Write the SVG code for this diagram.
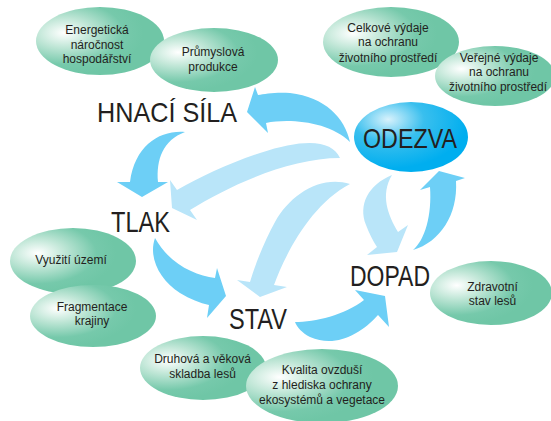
<svg xmlns="http://www.w3.org/2000/svg" width="551" height="421" viewBox="0 0 551 421">
<defs>
<radialGradient id="gGreen" cx="0.22" cy="0.38" r="0.62" fx="0.22" fy="0.38">
<stop offset="0" stop-color="#ffffff"/>
<stop offset="0.35" stop-color="#bfe6d6"/>
<stop offset="0.75" stop-color="#76c9ab"/>
<stop offset="1" stop-color="#6fc6a6"/>
</radialGradient>
<radialGradient id="gBlue" cx="0.3" cy="0.25" r="0.7" fx="0.3" fy="0.25">
<stop offset="0" stop-color="#d8f2fc"/>
<stop offset="0.45" stop-color="#39bfee"/>
<stop offset="1" stop-color="#00aeef"/>
</radialGradient>
<style>
.leaf{fill:url(#gGreen);}
.small{font-family:"Liberation Sans",Arial,sans-serif;font-size:12px;fill:#231f20;text-anchor:middle;}
.big{font-family:"Liberation Sans",Arial,sans-serif;fill:#231f20;}
.dark{fill:#6dcff6;}
.light{fill:#b9e5f9;}
</style>
</defs>
<rect width="551" height="421" fill="#ffffff"/>

<g id="connectors">
<path class="light" d="M 340,158 C 332,140 305,138 260,153 C 230,163 200,177 177,190 L 170,180 L 172,208 L 197,220 L 190,210 C 230,185 290,158 340,158 Z"/>
<path class="light" d="M 350,184 C 320,175 290,195 275,222 C 265,240 256,262 250,282 L 237,280 L 260,297 L 287,287 L 274,285 C 285,255 310,205 350,184 Z"/>
<path class="light" d="M 392,175 C 368,185 358,205 366,225 C 369,233 373,241 377,247 L 367,255 L 397,252 L 408,225 L 398,232 C 388,215 380,195 392,175 Z"/>
<path class="dark" d="M 350,142 C 345,118 325,97 290,93 C 275,92 265,94 258,95 L 255,87 L 247,112 L 268,133 L 266,123 C 290,118 330,122 350,142 Z"/>
<path class="dark" d="M 185,132 C 160,130 135,145 130,182 L 117,182 L 142,197 L 168,182 L 158,182 C 156,160 163,140 185,132 Z"/>
<path class="dark" d="M 155,238 C 148,258 160,280 180,293 C 190,299 200,303 209,305 L 207,318 L 226,296 L 217,268 L 215,278 C 195,275 170,265 155,238 Z"/>
<path class="dark" d="M 295,322 C 315,322 345,315 364,300 L 355,290 L 385,296 L 389,327 L 378,315 C 360,335 335,348 310,337 C 302,333 297,327 295,322 Z"/>
<path class="dark" d="M 413,250 C 440,242 458,215 456,181 L 465,178 L 439,171 L 420,190 L 430,187 C 432,215 425,240 413,250 Z"/>
</g>

<g id="energeticka">
<ellipse class="leaf" cx="100" cy="41" rx="64" ry="34"/>
<text class="small" x="97" y="34">Energetická</text>
<text class="small" x="97" y="48.5">náročnost</text>
<text class="small" x="97" y="63">hospodářství</text>
</g>
<g id="prumyslova">
<ellipse class="leaf" cx="214" cy="60" rx="64" ry="32"/>
<text class="small" x="213" y="56">Průmyslová</text>
<text class="small" x="213" y="70.5">produkce</text>
</g>
<g id="celkove">
<ellipse class="leaf" cx="391" cy="42" rx="68" ry="35"/>
<text class="small" x="388" y="31.5">Celkové výdaje</text>
<text class="small" x="388" y="46">na ochranu</text>
<text class="small" x="388" y="61.5">životního prostředí</text>
</g>
<g id="verejne">
<ellipse class="leaf" cx="495" cy="76" rx="60" ry="30"/>
<text class="small" x="499" y="61.5">Veřejné výdaje</text>
<text class="small" x="499" y="76">na ochranu</text>
<text class="small" x="498" y="90.5" textLength="98" lengthAdjust="spacingAndGlyphs">životního prostředí</text>
</g>
<g id="vyuziti">
<ellipse class="leaf" cx="73" cy="261" rx="63" ry="33"/>
<text class="small" x="71" y="264">Využití území</text>
</g>
<g id="fragmentace">
<ellipse class="leaf" cx="93" cy="316" rx="63" ry="31"/>
<text class="small" x="92" y="310.5">Fragmentace</text>
<text class="small" x="92" y="325">krajiny</text>
</g>
<g id="druhova">
<ellipse class="leaf" cx="203" cy="368" rx="63" ry="32"/>
<text class="small" x="202.5" y="363">Druhová a věková</text>
<text class="small" x="202.5" y="377.5">skladba lesů</text>
</g>
<g id="kvalita">
<ellipse class="leaf" cx="322" cy="386" rx="76" ry="37"/>
<text class="small" x="322" y="374">Kvalita ovzduší</text>
<text class="small" x="322" y="389">z hlediska ochrany</text>
<text class="small" x="322" y="403.5">ekosystémů a vegetace</text>
</g>
<g id="zdravotni">
<ellipse class="leaf" cx="491" cy="293" rx="61" ry="32"/>
<text class="small" x="492.5" y="290.5">Zdravotní</text>
<text class="small" x="492.5" y="305">stav lesů</text>
</g>

<g id="hnaci-sila">
<text class="big" x="97" y="122" font-size="28" textLength="140" lengthAdjust="spacingAndGlyphs">HNACÍ SÍLA</text>
</g>
<g id="tlak">
<text class="big" x="111" y="232" font-size="30" textLength="59" lengthAdjust="spacingAndGlyphs">TLAK</text>
</g>
<g id="stav">
<text class="big" x="229" y="329" font-size="29" textLength="58" lengthAdjust="spacingAndGlyphs">STAV</text>
</g>
<g id="dopad">
<text class="big" x="350" y="286" font-size="29" textLength="80" lengthAdjust="spacingAndGlyphs">DOPAD</text>
</g>
<g id="odezva">
<ellipse cx="411" cy="137" rx="57" ry="35" fill="url(#gBlue)"/>
<text class="big" x="363" y="148" font-size="28" textLength="94" lengthAdjust="spacingAndGlyphs">ODEZVA</text>
</g>
</svg>
